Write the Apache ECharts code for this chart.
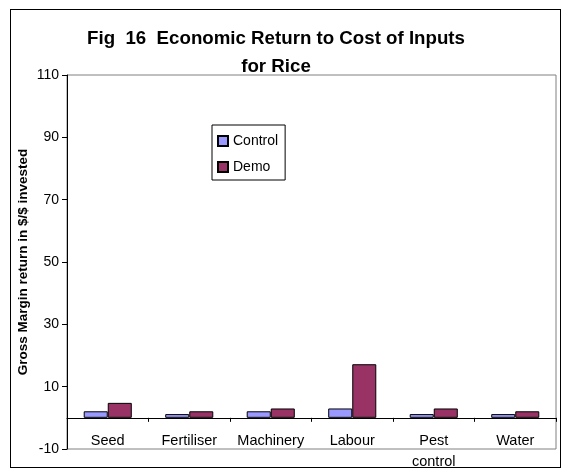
<!DOCTYPE html>
<html>
<head>
<meta charset="utf-8">
<script src="https://cdn.jsdelivr.net/npm/echarts@6/dist/echarts.min.js"></script>
<style>
  html, body { margin: 0; padding: 0; background: #ffffff; }
  #frame { position: absolute; left: 10px; top: 9px; width: 551px; height: 459px; border: 1px solid #000; box-sizing: border-box; }
  #chart { position: absolute; left: 0; top: 0; width: 563px; height: 470px; }
</style>
</head>
<body>
<div id="frame"></div>
<div id="chart"></div>
<script>
// Input categories and gross margin return ($ per $ invested)
const categories = ['Seed', 'Fertiliser', 'Machinery', 'Labour', 'Pest\ncontrol', 'Water'];
const controlValues = [2.1, 1.2, 2.1, 3.0, 1.2, 1.2];
const demoValues = [4.8, 2.1, 3.0, 17.2, 3.0, 2.1];
const yTicks = [-10, 10, 30, 50, 70, 90, 110];

const FONT = 'Liberation Sans, Arial, sans-serif';
const chart = echarts.init(document.getElementById('chart'), null, { renderer: 'canvas' });

chart.setOption({
  animation: false,
  backgroundColor: 'transparent',
  title: {
    text: 'Fig  16  Economic Return to Cost of Inputs\nfor Rice',
    left: 271,
    top: 20,
    textAlign: 'center',
    textStyle: { fontFamily: FONT, fontSize: 18.7, fontWeight: 'bold', color: '#000', lineHeight: 28 }
  },
  legend: {
    orient: 'vertical',
    left: 212,
    top: 125,
    padding: [9, 7, 6, 5],
    itemGap: 12,
    itemWidth: 10,
    itemHeight: 10,
    borderColor: '#000',
    borderWidth: 1,
    backgroundColor: '#fff',
    icon: 'rect',
    textStyle: { fontFamily: FONT, fontSize: 14, color: '#000' },
    data: ['Control', 'Demo']
  },
  grid: {
    left: 67,
    right: 7,
    top: 75,
    bottom: 21,
    outerBoundsMode: 'none',
    containLabel: false,
    show: true,
    borderColor: '#808080',
    borderWidth: 1
  },
  xAxis: {
    type: 'category',
    data: categories,
    axisLine: { onZero: true, lineStyle: { color: '#000', width: 1 } },
    axisTick: { show: true, length: 4, lineStyle: { color: '#000' } },
    axisLabel: { fontFamily: FONT, fontSize: 14.5, color: '#000', margin: -19, lineHeight: 21, interval: 0 }
  },
  yAxis: {
    type: 'value',
    min: -10,
    max: 110,
    interval: 20,
    name: 'Gross Margin return in $/$ invested',
    nameLocation: 'middle',
    nameGap: 37,
    nameMoveOverlap: false,
    nameTextStyle: { fontFamily: FONT, fontSize: 13.5, fontWeight: 'bold', color: '#000' },
    axisLine: { show: true, lineStyle: { color: '#000', width: 1 } },
    axisTick: { show: true, length: 5, lineStyle: { color: '#000' } },
    splitLine: { show: false },
    axisLabel: {
      fontFamily: FONT, fontSize: 14, color: '#000', margin: 8,
      formatter: v => (yTicks.includes(v) ? String(v) : '')
    }
  },
  series: [
    {
      name: 'Control',
      type: 'bar',
      data: controlValues,
      barGap: '0%',
      barCategoryGap: '41%',
      itemStyle: { color: '#9999FF', borderColor: '#000', borderWidth: 1 }
    },
    {
      name: 'Demo',
      type: 'bar',
      data: demoValues,
      itemStyle: { color: '#993366', borderColor: '#000', borderWidth: 1 }
    }
  ]
});
</script>
</body>
</html>
